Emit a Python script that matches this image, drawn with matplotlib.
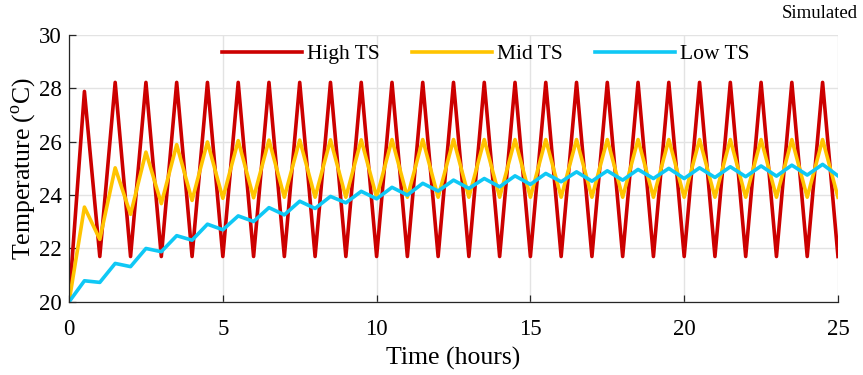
import numpy as np
import matplotlib.pyplot as plt

plt.rcParams['font.family'] = ['Liberation Serif', 'DejaVu Serif']
plt.rcParams['mathtext.fontset'] = 'custom'
plt.rcParams['mathtext.rm'] = 'Liberation Serif'

# samples every half hour, 0 .. 25 h
time_h = np.arange(51) * 0.5

high_ts = [20.0, 27.88] + [21.7, 28.22] * 24 + [21.7]

mid_ts = [20.0, 23.55, 22.34, 25.02, 23.28, 25.61, 23.68, 25.89, 23.80, 25.99,
          23.88, 26.04, 23.90, 26.06, 23.92, 26.06, 23.92, 26.07, 23.92, 26.07,
          23.92, 26.08, 23.92, 26.08, 23.92, 26.08, 23.92, 26.08, 23.92, 26.08,
          23.92, 26.08, 23.92, 26.08, 23.92, 26.08, 23.92, 26.08, 23.92, 26.08,
          23.92, 26.08, 23.92, 26.08, 23.92, 26.08, 23.92, 26.08, 23.92, 26.08,
          23.92]

low_ts = [20.0, 20.79, 20.73, 21.44, 21.32, 22.0, 21.88, 22.48, 22.31, 22.91,
          22.70, 23.22, 23.01, 23.53, 23.26, 23.77, 23.50, 23.95, 23.71, 24.14,
          23.86, 24.29, 24.0, 24.44, 24.15, 24.56, 24.25, 24.62, 24.31, 24.72,
          24.40, 24.81, 24.50, 24.87, 24.52, 24.91, 24.56, 24.96, 24.62, 25.0,
          24.62, 25.02, 24.66, 25.06, 24.69, 25.09, 24.71, 25.12, 24.75, 25.15,
          24.72]

series = [('High TS', high_ts, '#CC0000'),
          ('Mid TS', mid_ts, '#FFC400'),
          ('Low TS', low_ts, '#0FC8F5')]

fig = plt.figure(figsize=(8.63, 3.75), dpi=100)
ax = fig.add_axes([0.080, 0.195, 0.891, 0.712])

for name, vals, col in series:
    ax.plot(time_h, vals, color=col, lw=2.6, label=name, solid_joinstyle='round')

ax.set_xlim(0, 25)
ax.set_ylim(20, 30)
ax.set_xticks(np.arange(0, 26, 5))
ax.set_yticks(np.arange(20, 31, 2))
ax.grid(True, color='#E3E3E3', lw=1.0)
ax.set_axisbelow(True)
for side in ['top', 'right']:
    ax.spines[side].set_visible(False)
for side in ['left', 'bottom']:
    ax.spines[side].set_color('#262626')
    ax.spines[side].set_linewidth(0.9)
ax.tick_params(direction='in', length=5, width=0.9, color='#262626',
               labelsize=16.5)
ax.tick_params(axis='x', pad=12)
ax.tick_params(axis='y', pad=5)

ax.set_xlabel('Time (hours)', fontsize=18.5, labelpad=5)
ax.set_ylabel(r'Temperature ($^{\mathrm{o}}$C)', fontsize=18.5, labelpad=1)

ax.legend(loc='center', ncol=3, frameon=False, fontsize=15.5,
          handlelength=3.7, handletextpad=0.25, columnspacing=1.5,
          bbox_to_anchor=(0.542, 0.927))

fig.text(0.994, 0.965, 'Simulated', ha='right', va='center', fontsize=13.5)

fig.savefig('out.png', dpi=100)
